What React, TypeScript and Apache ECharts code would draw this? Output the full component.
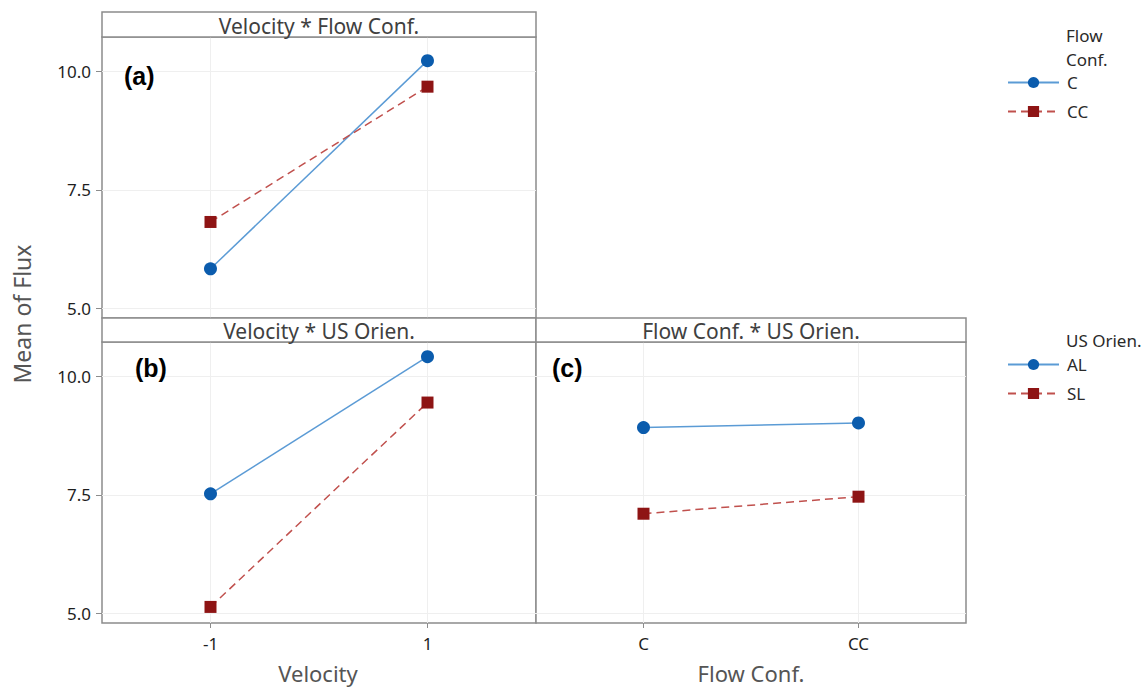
import React, { useEffect, useRef } from "react";
import * as echarts from "echarts";

const velocityLevels = [-1, 1];
const flowCats = ["C", "CC"];
const yTicks = [5, 7.5, 10];
const velFlowC = [5.83, 10.23];
const velFlowCC = [6.82, 9.68];
const velUsAL = [7.52, 10.42];
const velUsSL = [5.13, 9.45];
const flowUsAL = [8.92, 9.02];
const flowUsSL = [7.1, 7.46];

const BLUE_LINE = "#5b9bd5";
const BLUE_MARK = "#0b5cad";
const RED_LINE = "#c0504d";
const RED_MARK = "#8e1414";
const BORDER = "#8c8c8c";
const FONT = "Noto Sans";

export default function App() {
  const ref = useRef<HTMLDivElement>(null);
  useEffect(() => {
    document.body.style.margin = "0";
    const chart = echarts.init(ref.current!, null, { renderer: "svg" });

    const grids = [
      { left: 102, top: 37, width: 434, height: 281 },
      { left: 102, top: 342, width: 434, height: 281 },
      { left: 536, top: 342, width: 430, height: 281 },
    ].map((g) => ({ ...g, show: true, borderColor: BORDER, borderWidth: 1.5, backgroundColor: "#fff" }));

    const splitLine = { show: true, lineStyle: { color: "#efefef", width: 1 } };
    const labelStyle = { fontSize: 17, color: "#1e1e1e", fontFamily: FONT };

    const xAxisVel = (showLabels: boolean, idx: number) => ({
      type: "value",
      gridIndex: idx,
      min: -2,
      max: 2,
      axisLine: { show: false, onZero: false },
      axisTick: { show: showLabels, length: 5, lineStyle: { color: BORDER }, customValues: velocityLevels },
      axisLabel: {
        show: showLabels,
        customValues: velocityLevels,
        ...labelStyle,
        margin: 12,
        formatter: (v: number) => String(v),
      },
      splitLine,
    });

    const yAxis = (showLabels: boolean, idx: number) => ({
      type: "value",
      gridIndex: idx,
      min: 4.79,
      max: 10.73,
      axisLine: { show: false, onZero: false },
      axisTick: { show: showLabels, length: 6, lineStyle: { color: BORDER }, customValues: yTicks },
      axisLabel: {
        show: showLabels,
        customValues: yTicks,
        ...labelStyle,
        margin: 11,
        formatter: (v: number) => v.toFixed(1),
      },
      splitLine,
    });

    const blue = (name: string, xi: number, data: number[][]) => ({
      name,
      type: "line",
      xAxisIndex: xi,
      yAxisIndex: xi,
      data,
      symbol: "circle",
      symbolSize: 13,
      itemStyle: { color: BLUE_MARK },
      lineStyle: { color: BLUE_LINE, width: 1.5 },
    });
    const red = (name: string, xi: number, data: number[][]) => ({
      name,
      type: "line",
      xAxisIndex: xi,
      yAxisIndex: xi,
      data,
      symbol: "rect",
      symbolSize: 12,
      itemStyle: { color: RED_MARK },
      lineStyle: { color: RED_LINE, width: 1.5, type: [8, 5] },
    });

    const header = (x: number, y: number, w: number, h: number, text: string) => [
      { type: "rect", shape: { x, y, width: w, height: h }, style: { fill: "#fff", stroke: BORDER, lineWidth: 1.5 }, z: 10 },
      {
        type: "text",
        x: x + w / 2,
        y: y + h / 2 + 1,
        style: { text, fill: "#404040", font: `21px "${FONT}"`, align: "center", verticalAlign: "middle" },
        z: 11,
      },
    ];
    const txt = (x: number, y: number, text: string, font: string, fill: string, extra: any = {}) => ({
      type: "text",
      x,
      y,
      style: { text, font, fill, align: "left", verticalAlign: "middle" },
      z: 11,
      ...extra,
    });

    const legendBase = {
      orient: "vertical",
      left: 1002,
      itemWidth: 51,
      itemHeight: 14,
      itemGap: 12,
      selectedMode: false,
      textStyle: { fontSize: 17, color: "#2a2a2a", fontFamily: FONT, padding: [0, 0, 0, 3] },
    };

    const option: any = {
      animation: false,
      backgroundColor: "#fff",
      grid: grids,
      xAxis: [
        xAxisVel(false, 0),
        xAxisVel(true, 1),
        {
          type: "value",
          gridIndex: 2,
          min: -0.5,
          max: 1.5,
          axisLine: { show: false, onZero: false },
          axisTick: { show: true, length: 5, lineStyle: { color: BORDER }, customValues: [0, 1] },
          axisLabel: {
            show: true,
            customValues: [0, 1],
            ...labelStyle,
            margin: 12,
            formatter: (v: number) => flowCats[Math.round(v)] ?? "",
          },
          splitLine,
        },
      ],
      yAxis: [yAxis(true, 0), yAxis(true, 1), yAxis(false, 2)],
      legend: [
        { ...legendBase, data: ["C", "CC"], top: 69 },
        { ...legendBase, data: ["AL", "SL"], top: 351 },
      ],
      series: [
        blue("C", 0, velocityLevels.map((v, i) => [v, velFlowC[i]])),
        red("CC", 0, velocityLevels.map((v, i) => [v, velFlowCC[i]])),
        blue("AL", 1, velocityLevels.map((v, i) => [v, velUsAL[i]])),
        red("SL", 1, velocityLevels.map((v, i) => [v, velUsSL[i]])),
        blue("AL", 2, flowCats.map((_, i) => [i, flowUsAL[i]])),
        red("SL", 2, flowCats.map((_, i) => [i, flowUsSL[i]])),
      ],
      graphic: [
        ...header(102, 12, 434, 25, "Velocity * Flow Conf."),
        ...header(102, 318, 434, 24, "Velocity * US Orien."),
        ...header(536, 318, 430, 24, "Flow Conf. * US Orien."),
        txt(124, 76, "(a)", 'bold 25px "Liberation Sans"', "#000"),
        txt(135, 368, "(b)", 'bold 25px "Liberation Sans"', "#000"),
        txt(552, 368, "(c)", 'bold 25px "Liberation Sans"', "#000"),
        txt(1066, 35, "Flow", `17px "${FONT}"`, "#2a2a2a"),
        txt(1066, 59, "Conf.", `17px "${FONT}"`, "#2a2a2a"),
        txt(1066, 340, "US Orien.", `17px "${FONT}"`, "#2a2a2a"),
        {
          type: "text",
          x: 22,
          y: 314,
          rotation: Math.PI / 2,
          style: { text: "Mean of Flux", font: `23px "${FONT}"`, fill: "#555", align: "center", verticalAlign: "middle" },
          z: 11,
        },
        {
          type: "text",
          x: 318,
          y: 673,
          style: { text: "Velocity", font: `22px "${FONT}"`, fill: "#555", align: "center", verticalAlign: "middle" },
          z: 11,
        },
        {
          type: "text",
          x: 751,
          y: 673,
          style: { text: "Flow Conf.", font: `22px "${FONT}"`, fill: "#555", align: "center", verticalAlign: "middle" },
          z: 11,
        },
      ],
    };
    chart.setOption(option);
    return () => chart.dispose();
  }, []);
  return <div ref={ref} style={{ width: 1146, height: 688 }} />;
}
